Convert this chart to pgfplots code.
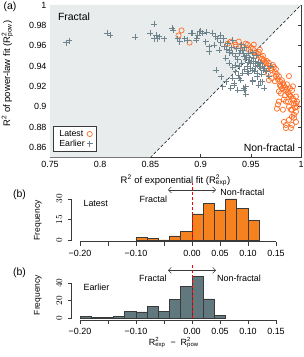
\documentclass[border=0pt]{standalone}
\usepackage{amsmath}
\usepackage{pgfplots}
\pgfplotsset{compat=1.18}
\usepackage{fontspec}
\setmainfont{Liberation Sans}
\usetikzlibrary{arrows.meta}
\definecolor{bggray}{HTML}{E8ECED}
\definecolor{orgpt}{HTML}{FF6D24}
\definecolor{graypt}{HTML}{6E838B}
\definecolor{orghist}{HTML}{F5821F}
\definecolor{grayhist}{HTML}{62787F}
\definecolor{edge}{HTML}{3A3A3A}
\newcommand{\Rsq}[1]{R$^{\text{2}}_{\text{#1}}$}
\begin{document}
\begin{tikzpicture}[x=1bp,y=1bp]
\path[use as bounding box] (0,0) rectangle (304,357);
% ---------------- (a) scatter ----------------
\begin{axis}[
  at={(50bp,199.5bp)}, anchor=south west,
  scale only axis, width=251bp, height=152.5bp,
  xmin=0.75, xmax=1, ymin=0.85, ymax=1,
  xtick={0.75,0.8,0.85,0.9,0.95,1},
  ytick={0.86,0.88,0.9,0.92,0.94,0.96,0.98,1},
  tick align=inside, major tick length=3bp,
  tick style={edge, line width=0.6pt},
  axis line style={edge, line width=0.8pt},
  /pgf/number format/assume math mode=true,
  ticklabel style={font=\fontsize{9}{10}\selectfont},
  xlabel={R$^{\text{2}}$ of exponential fit (\Rsq{exp})},
  ylabel={R$^{\text{2}}$ of power-law fit (\Rsq{pow})},
  label style={font=\fontsize{9.5}{11}\selectfont},
  xlabel style={at={(axis description cs:0.5,-0.15)}, anchor=center},
  ylabel style={at={(axis description cs:-0.17,0.55)}, anchor=center},
  legend style={at={(0.012,0.036)}, anchor=south west, draw=edge, line width=0.8pt,
     font=\fontsize{8.8}{10}\selectfont, inner xsep=4bp, inner ysep=2bp, row sep=-2bp},
  legend plot pos=right,
  legend cell align=left,
  clip=true,
]
\addplot[fill=bggray, draw=none, forget plot] coordinates {(0.75,0.85) (0.85,0.85) (1,1) (0.75,1)} -- cycle;
\addplot[black, densely dashed, line width=0.5pt, forget plot] coordinates {(0.85,0.85) (1,1)};
\addplot[only marks, mark=o, mark size=2.6bp, orgpt, mark options={line width=0.7pt}] coordinates {
(0.881,0.975)(0.878,0.970)(0.889,0.963)
(0.927,0.962)(0.930,0.964)(0.935,0.961)(0.935,0.959)(0.938,0.964)(0.942,0.959)(0.945,0.962)(0.947,0.961)
(0.948,0.956)(0.950,0.958)(0.952,0.957)(0.955,0.953)(0.957,0.952)(0.958,0.954)(0.960,0.949)(0.961,0.947)
(0.963,0.946)(0.962,0.950)(0.965,0.943)(0.966,0.945)(0.968,0.943)(0.967,0.933)(0.968,0.926)(0.970,0.938)
(0.971,0.936)(0.973,0.939)(0.974,0.934)(0.975,0.930)(0.976,0.932)(0.978,0.930)(0.977,0.927)(0.979,0.925)
(0.981,0.926)(0.982,0.923)(0.983,0.921)(0.984,0.919)(0.985,0.916)(0.986,0.917)(0.987,0.914)(0.988,0.912)
(0.988,0.930)(0.989,0.911)(0.990,0.910)(0.991,0.916)(0.992,0.908)(0.993,0.906)(0.993,0.903)(0.995,0.903)
(0.995,0.910)(0.994,0.899)(0.978,0.905)(0.977,0.902)(0.980,0.913)(0.983,0.907)(0.985,0.905)(0.988,0.900)
(0.991,0.897)(0.976,0.898)(0.982,0.897)(0.990,0.897)(0.993,0.892)(0.995,0.895)(0.991,0.890)(0.988,0.887)
(0.983,0.885)(0.985,0.882)(0.985,0.879)(0.990,0.879)(0.991,0.882)(0.993,0.889)(0.995,0.885)(0.972,0.941)
(0.969,0.940)(0.964,0.944)(0.975,0.937)(0.980,0.920)(0.981,0.918)(0.986,0.922)(0.984,0.911)(0.987,0.905)
(0.989,0.918)(0.992,0.920)(0.996,0.905)(0.996,0.900)(0.971,0.928)(0.974,0.925)(0.978,0.915)(0.979,0.921)
(0.959,0.956)(0.953,0.961)(0.955,0.950)(0.962,0.941)(0.966,0.938)
};
\addlegendentry{Latest}
\addplot[only marks, mark=+, mark size=3bp, graypt, mark options={line width=0.8pt}] coordinates {
(0.766,0.963)(0.769,0.965)(0.807,0.972)(0.810,0.970)(0.835,0.9685)(0.854,0.981)(0.850,0.972)(0.856,0.9705)
(0.857,0.967)(0.859,0.969)(0.854,0.967)(0.864,0.967)(0.872,0.977)(0.873,0.975)(0.877,0.967)(0.879,0.964)
(0.884,0.967)(0.887,0.9656)(0.892,0.972)(0.896,0.967)(0.897,0.970)(0.900,0.974)(0.8905,0.972)(0.8955,0.9656)
(0.899,0.9738)(0.902,0.972)(0.905,0.964)(0.9087,0.959)(0.912,0.972)(0.917,0.967)(0.920,0.970)(0.9186,0.9558)
(0.925,0.9476)(0.9286,0.9427)(0.932,0.939)(0.927,0.962)(0.932,0.9656)(0.9087,0.954)(0.9137,0.9607)(0.9236,0.959)
(0.9286,0.9558)(0.932,0.9525)(0.935,0.949)(0.937,0.946)(0.9385,0.9525)(0.942,0.9558)(0.9434,0.949)(0.945,0.946)
(0.948,0.9525)(0.950,0.9426)(0.953,0.9475)(0.9549,0.9394)(0.958,0.944)(0.9599,0.9377)(0.9566,0.933)(0.9385,0.9393)
(0.935,0.9344)(0.9153,0.936)(0.9203,0.9295)(0.9253,0.9246)(0.922,0.9197)(0.930,0.918)(0.9335,0.9213)(0.937,0.9164)
(0.9435,0.9164)(0.945,0.9197)(0.9385,0.928)(0.948,0.933)(0.9517,0.926)(0.932,0.928)(0.9335,0.923)(0.940,0.926)
(0.943,0.918)(0.945,0.912)(0.938,0.931)(0.952,0.9246)(0.958,0.921)(0.9616,0.9246)(0.947,0.9344)(0.9517,0.936)
(0.9566,0.9295)(0.960,0.9246)(0.9633,0.918)(0.9517,0.9262)(0.9583,0.9393)
(0.940,0.955)(0.943,0.952)(0.946,0.950)(0.949,0.948)(0.951,0.945)(0.953,0.943)(0.955,0.945)(0.957,0.941)
(0.960,0.943)(0.962,0.940)(0.964,0.938)(0.966,0.935)(0.944,0.958)(0.941,0.961)(0.936,0.957)(0.931,0.958)
(0.929,0.953)(0.926,0.956)(0.947,0.940)(0.950,0.938)(0.954,0.935)(0.961,0.932)(0.963,0.936)(0.941,0.943)
(0.944,0.937)(0.948,0.944)(0.956,0.950)(0.952,0.953)(0.935,0.941)(0.942,0.933)(0.915,0.969)(0.923,0.967)
(0.906,0.973)(0.920,0.963)(0.970,0.940)(0.968,0.930)
};
\addlegendentry{Earlier}
\node[anchor=north west, font=\fontsize{10.5}{12}\selectfont] at (axis cs:0.7545,0.9955) {Fractal};
\node[anchor=south east, font=\fontsize{10.5}{12}\selectfont] at (axis cs:0.9975,0.8525) {Non-fractal};
\end{axis}
\node[font=\fontsize{10.5}{12}\selectfont] at (10,350) {(a)};
% ---------------- (b) Latest ----------------
\begin{axis}[
  at={(71.6bp,115.4bp)}, anchor=south west,
  scale only axis, width=204.4bp, height=45.4bp,
  xmin=-0.215, xmax=0.15, ymin=-1.2, ymax=32,
  axis line style={draw=none},
  axis x line=bottom, axis y line=left,
  separate axis lines,
  tick align=outside, major tick length=4bp,
  tick style={edge, line width=0.7pt},
  xtick={-0.2,-0.15,-0.1,-0.05,0,0.05,0.1,0.15},
  xticklabels={−0.20,,−0.10,,0.00,0.05,0.10,0.15},
  ytick={0,15,30},
  yticklabel shift=2bp,
  yticklabel style={rotate=90, anchor=south, font=\fontsize{9}{10}\selectfont},
  xticklabel style={font=\fontsize{9}{10}\selectfont, yshift=-1bp},
  ylabel={Frequency},
  ylabel style={font=\fontsize{8.5}{10}\selectfont, at={(axis description cs:-0.165,0.47)}, anchor=center},
  clip=false,
]
\draw[edge, line width=0.7pt] (axis cs:-0.2,-1.2) -- (axis cs:0.15,-1.2);
\draw[edge, line width=0.7pt] (axis cs:-0.215,0) -- (axis cs:-0.215,30);
\addplot[ybar, bar width=0.02, bar shift=0pt, fill=orghist, draw=edge, line width=0.7pt] coordinates {
(-0.09,2)(-0.07,1)(-0.05,0)(-0.03,3)(-0.01,6)(0.01,19)(0.03,27)(0.05,22)(0.07,30)(0.09,23)(0.11,14)
};
\draw[red, densely dashed, line width=0.8pt] (axis cs:0,0) -- (axis cs:0,42);
\draw[{Straight Barb[length=3bp]}-{Straight Barb[length=3bp]}, edge, line width=0.6pt] (axis cs:-0.043,36.6) -- (axis cs:0.043,36.6);
\node[anchor=west, font=\fontsize{9}{10}\selectfont] at (axis cs:-0.2,27) {Latest};
\node[font=\fontsize{9}{10}\selectfont] at (axis cs:-0.069,30) {Fractal};
\node[font=\fontsize{9}{10}\selectfont] at (axis cs:0.09,35) {Non-fractal};
\end{axis}
\node[font=\fontsize{10.5}{12}\selectfont] at (19.5,162) {(b)};
% ---------------- (b) Earlier ----------------
\begin{axis}[
  at={(71.6bp,37bp)}, anchor=south west,
  scale only axis, width=204.4bp, height=45.3bp,
  xmin=-0.215, xmax=0.15, ymin=-2.3, ymax=50,
  axis line style={draw=none},
  axis x line=bottom, axis y line=left,
  separate axis lines,
  tick align=outside, major tick length=4bp,
  tick style={edge, line width=0.7pt},
  xtick={-0.2,-0.15,-0.1,-0.05,0,0.05,0.1,0.15},
  xticklabels={−0.20,,−0.10,,0.00,0.05,0.10,0.15},
  ytick={0,20,40},
  yticklabel shift=2bp,
  yticklabel style={rotate=90, anchor=south, font=\fontsize{9}{10}\selectfont},
  xticklabel style={font=\fontsize{9}{10}\selectfont, yshift=-1bp},
  ylabel={Frequency},
  ylabel style={font=\fontsize{8.5}{10}\selectfont, at={(axis description cs:-0.165,0.55)}, anchor=center},
  xlabel={\Rsq{exp} \ − \ \Rsq{pow}},
  xlabel style={font=\fontsize{9}{10}\selectfont, at={(axis description cs:0.5,-0.5)}, anchor=center},
  clip=false,
]
\draw[edge, line width=0.7pt] (axis cs:-0.2,-2.3) -- (axis cs:0.15,-2.3);
\draw[edge, line width=0.7pt] (axis cs:-0.215,0) -- (axis cs:-0.215,40);
\addplot[ybar, bar width=0.02, bar shift=0pt, fill=grayhist, draw=edge, line width=0.7pt] coordinates {
(-0.19,2)(-0.17,1)(-0.15,1)(-0.13,2)(-0.11,8)(-0.09,7)(-0.07,13)(-0.05,8)(-0.03,21)(-0.01,36)(0.01,48)(0.03,22)(0.05,3)
};
\draw[red, densely dashed, line width=0.8pt] (axis cs:0,0) -- (axis cs:0,61);
\draw[{Straight Barb[length=3bp]}-{Straight Barb[length=3bp]}, edge, line width=0.6pt] (axis cs:-0.043,55) -- (axis cs:0.043,55);
\node[anchor=west, font=\fontsize{9}{10}\selectfont] at (axis cs:-0.2,36) {Earlier};
\node[font=\fontsize{9}{10}\selectfont] at (axis cs:-0.070,46) {Fractal};
\node[font=\fontsize{9}{10}\selectfont] at (axis cs:0.084,46) {Non-fractal};
\end{axis}
\node[font=\fontsize{10.5}{12}\selectfont] at (19.5,84) {(b)};
\end{tikzpicture}
\end{document}
